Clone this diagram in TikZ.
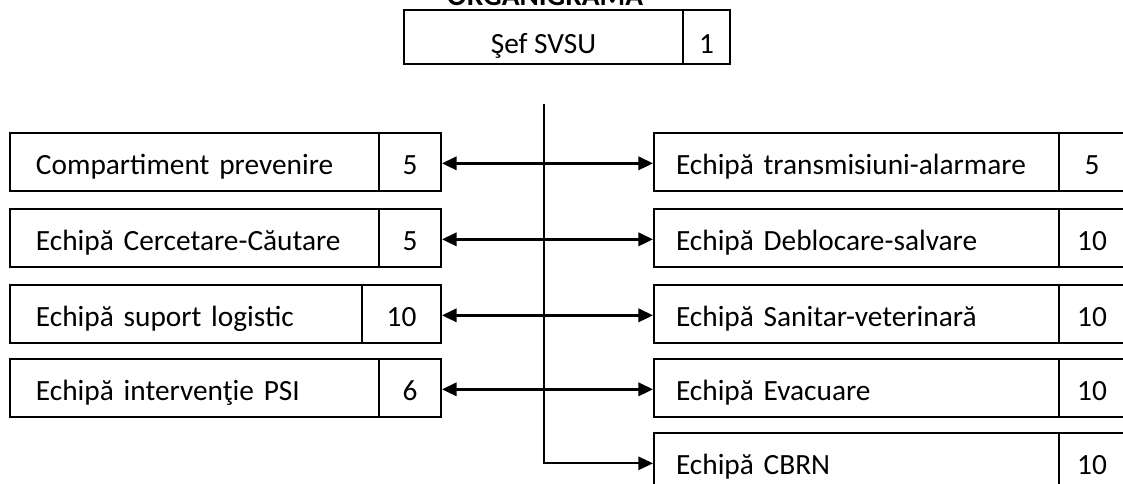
\documentclass[tikz,border=0pt]{standalone}
\usepackage{fontspec}
\setmainfont{Carlito}
\usetikzlibrary{arrows.meta}
\begin{document}
\begin{tikzpicture}[x=0.75pt,y=-0.75pt,
  cell/.style={draw, line width=1.5pt, rectangle, inner sep=0pt, anchor=north west,
    minimum height=43.5pt, text height=22pt, text depth=3.2pt, font=\fontsize{22}{26}\selectfont},
  lbl/.style={cell, align=left, inner xsep=19.5pt, text width=#1},
  lblr/.style={cell, align=left, inner xsep=16.5pt, text width=#1},
  num/.style={cell, align=center, minimum width=#1},
  top/.style={draw, line width=1.5pt, rectangle, inner sep=0pt, anchor=north west,
    minimum height=40.5pt, text height=27pt, text depth=2.2pt, font=\fontsize{22}{26}\selectfont, minimum width=#1},
  biarrow/.style={line width=2pt, {Triangle[length=11pt,width=10pt]}-{Triangle[length=11pt,width=10pt]}},
  trunk/.style={line width=1.4pt, -{Triangle[length=11pt,width=10pt]}},
]
\useasboundingbox (0,0) rectangle (1123,484);
\clip (0,0) rectangle (1123,484);

% title
\node[anchor=base, font=\fontsize{22}{26}\selectfont\bfseries, inner sep=0pt] (title) at (545,5.5) {ORGANIGRAMA};

% top box
\node[top=209.25pt] (sef) at (403,9) {Şef SVSU};
\node[top=35.25pt] (sefn) at (682,9) {1};

% left column
\node[lbl=237.75pt] (L1) at (9,132) {Compartiment prevenire};
\node[num=46.5pt] (L1n) at (378,132) {5};
\node[lbl=237.75pt] (L2) at (9,208) {Echipă Cercetare-Căutare};
\node[num=46.5pt] (L2n) at (378,208) {5};
\node[lbl=225pt] (L3) at (9,284) {Echipă suport logistic};
\node[num=59.25pt] (L3n) at (361,284) {10};
\node[lbl=237.75pt] (L4) at (9,358) {Echipă intervenţie PSI};
\node[num=46.5pt] (L4n) at (378,358) {6};

% right column
\node[lblr=270.75pt] (R1) at (653,132) {Echipă transmisiuni-alarmare};
\node[num=49.5pt] (R1n) at (1058,132) {5};
\node[lblr=270.75pt] (R2) at (653,208) {Echipă Deblocare-salvare};
\node[num=49.5pt] (R2n) at (1058,208) {10};
\node[lblr=270.75pt] (R3) at (653,284) {Echipă Sanitar-veterinară};
\node[num=49.5pt] (R3n) at (1058,284) {10};
\node[lblr=270.75pt] (R4) at (653,358) {Echipă Evacuare};
\node[num=49.5pt] (R4n) at (1058,358) {10};
\node[lblr=270.75pt] (R5) at (653,432) {Echipă CBRN};
\node[num=49.5pt] (R5n) at (1058,432) {10};

% connectors
\foreach \i in {1,2,3,4}{
  \draw[biarrow] ([yshift=-1pt]L\i n.east) -- ([yshift=-1pt]L\i n.east -| R\i.west);
}
\coordinate (vtop) at (544,104);
\draw[trunk] (vtop) |- ([yshift=-1pt]R5.west);
\end{tikzpicture}
\end{document}
